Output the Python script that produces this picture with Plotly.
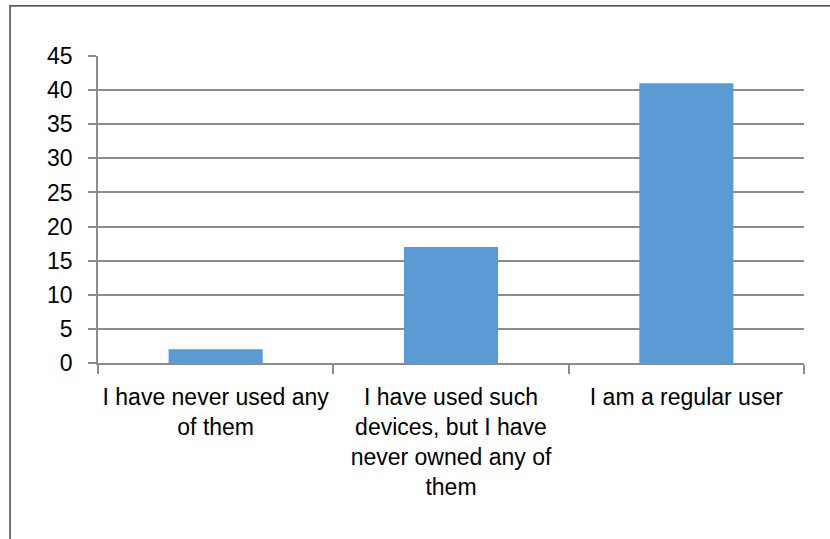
import plotly.graph_objects as go

# Survey answers and their counts
categories = [
    "I have never used any<br>of them",
    "I have used such<br>devices, but I have<br>never owned any of<br>them",
    "I am a regular user",
]
counts = [2, 17, 41]
y_ticks = [0, 5, 10, 15, 20, 25, 30, 35, 40, 45]

FONT = "Liberation Sans"
GRID = "#8c8c8c"

fig = go.Figure(
    go.Bar(
        x=categories,
        y=counts,
        marker=dict(color="#5b9bd5", line=dict(width=0)),
        width=0.4,
    )
)

fig.update_layout(
    width=830,
    height=539,
    margin=dict(l=98, r=26, t=56, b=176, autoexpand=False),
    paper_bgcolor="white",
    plot_bgcolor="white",
    showlegend=False,
    font=dict(family=FONT, size=23, color="black"),
    bargap=0.6,
)

fig.update_xaxes(
    type="category",
    showgrid=False,
    showline=True,
    linecolor=GRID,
    linewidth=1.5,
    ticks="outside",
    tickson="boundaries",
    ticklen=9,
    tickwidth=1.5,
    tickcolor=GRID,
    tickangle=0,
    automargin=False,
    ticklabelstandoff=13,
    tickfont=dict(family=FONT, size=23, color="black"),
)

fig.update_yaxes(
    range=[0, 45],
    tickvals=y_ticks,
    showgrid=True,
    gridcolor=GRID,
    gridwidth=1.5,
    showline=True,
    linecolor=GRID,
    linewidth=1.5,
    ticks="outside",
    ticklen=8,
    tickwidth=1.5,
    tickcolor=GRID,
    automargin=False,
    ticklabelstandoff=11,
    zeroline=False,
    tickfont=dict(family=FONT, size=23, color="black"),
)

# Chart frame (left and top edges)
fig.add_shape(
    type="path",
    xref="paper",
    yref="paper",
    path="M -0.1246,-0.58 L -0.1246,1.163 L 1.05,1.163",
    line=dict(color="#1a1a1a", width=1.2),
)

fig.write_html("out.html")
